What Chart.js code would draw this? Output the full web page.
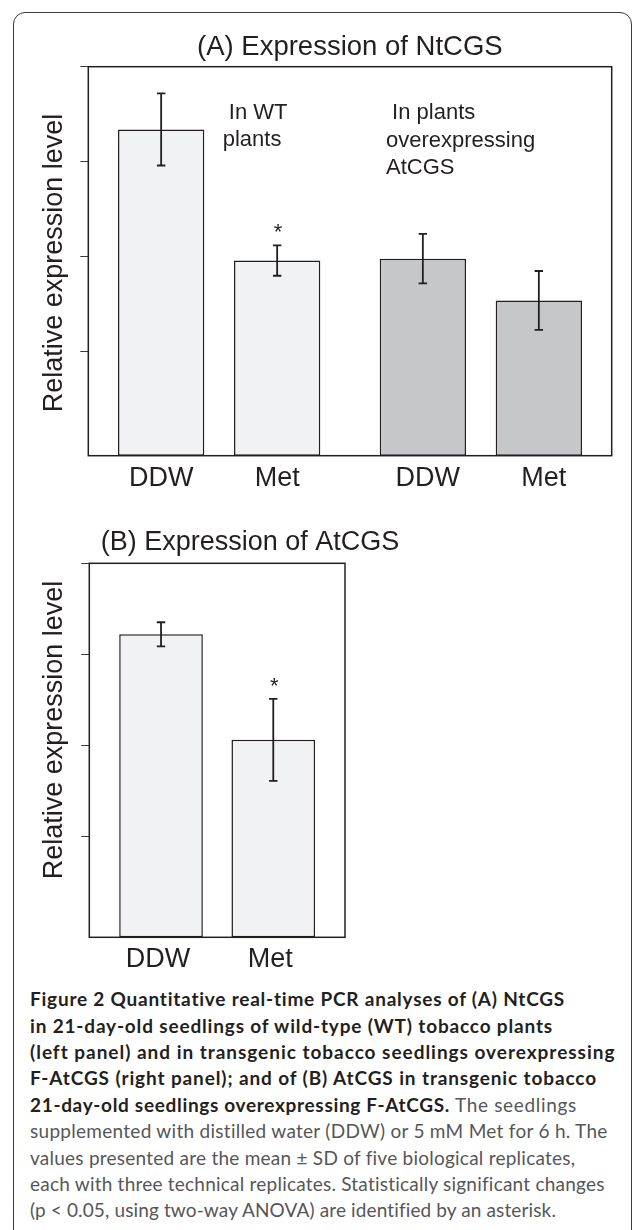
<!DOCTYPE html>
<html><head><meta charset="utf-8">
<script src="https://cdn.jsdelivr.net/npm/chart.js@4/dist/chart.umd.min.js"></script>
<style>
html,body{margin:0;padding:0;background:#fff;}
body{width:633px;height:1230px;position:relative;overflow:hidden;}
#frame{position:absolute;left:13px;top:12px;width:619px;height:1320px;border:1.5px solid #3a3a3a;border-radius:12px;box-sizing:border-box;}
#cA{position:absolute;left:0;top:0;}
#cB{position:absolute;left:0;top:500px;}
#cap{position:absolute;left:30px;top:986.2px;font-family:Lato,"Open Sans",sans-serif;font-size:19px;line-height:26.4px;color:#565658;white-space:nowrap;}
#cap b{color:#231f20;font-weight:700;}
</style></head>
<body>
<div id="frame"></div>
<canvas id="cA" width="633" height="500"></canvas>
<canvas id="cB" width="633" height="480"></canvas>
<div id="cap">
<div class="ln"><b>Figure 2 Quantitative real-time PCR analyses of (A) NtCGS</b></div>
<div class="ln"><b>in 21-day-old seedlings of wild-type (WT) tobacco plants</b></div>
<div class="ln"><b>(left panel) and in transgenic tobacco seedlings overexpressing</b></div>
<div class="ln"><b>F-AtCGS (right panel); and of (B) AtCGS in transgenic tobacco</b></div>
<div class="ln"><b>21-day-old seedlings overexpressing F-AtCGS.</b> The seedlings</div>
<div class="ln">supplemented with distilled water (DDW) or 5 mM Met for 6 h. The</div>
<div class="ln">values presented are the mean ± SD of five biological replicates,</div>
<div class="ln">each with three technical replicates. Statistically significant changes</div>
<div class="ln">(p &lt; 0.05, using two-way ANOVA) are identified by an asterisk.</div>
</div>
<script>
// ---- data ----
const treatments = ["DDW", "Met"];
const groupsA = ["In WT plants", "In plants overexpressing AtCGS"];
const ddwA = [1.67, 0.99];
const metA = [0.98, 0.77];
const ddwSdA = [0.19, 0.13];
const metSdA = [0.08, 0.155];
const starDdwA = [false, false];
const starMetA = [true, false];
const groupsB = ["AtCGS"];
const ddwB = [1.61];
const metB = [1.03];
const ddwSdB = [0.066];
const metSdB = [0.225];
const starDdwB = [false];
const starMetB = [true];
const yTicks = [0.5, 1.0, 1.5, 2.0];
const titleA = "(A) Expression of NtCGS";
const titleB = "(B) Expression of AtCGS";
const yTitle = "Relative expression level";
const noteWT = [" In WT", "plants"];
const noteOE = [" In plants", "overexpressing", "AtCGS"];

// ---- styles ----
const INK = '#231f20';
const LIGHT = '#f1f2f4';
const GREY = '#c6c7c9';
const FONT = '"Liberation Sans", Arial, Helvetica, sans-serif';

// caption line widths (layout only)
const capWidths = [536, 523, 585, 567, 547, 578, 545, 575, 526];
document.querySelectorAll('#cap .ln').forEach((el, i) => {
  const r = document.createRange();
  r.selectNodeContents(el);
  const w = r.getBoundingClientRect().width;
  const n = el.textContent.length;
  el.style.letterSpacing = ((capWidths[i] - w) / n) + 'px';
});

const decor = {
  id: 'decor',
  afterDatasetsDraw(chart, args, o) {
    const ctx = chart.ctx, ca = chart.chartArea, y = chart.scales.y;
    ctx.save();
    ctx.fillStyle = INK; ctx.strokeStyle = INK;
    chart.data.datasets.forEach((ds, di) => {
      const meta = chart.getDatasetMeta(di);
      meta.data.forEach((el, i) => {
        const v = ds.data[i], sd = ds.sd[i];
        const yt = y.getPixelForValue(v + sd), yb = y.getPixelForValue(v - sd);
        ctx.lineWidth = 1.8;
        ctx.beginPath();
        ctx.moveTo(el.x, yt); ctx.lineTo(el.x, yb);
        ctx.moveTo(el.x - 4.2, yt); ctx.lineTo(el.x + 4.2, yt);
        ctx.moveTo(el.x - 4.2, yb); ctx.lineTo(el.x + 4.2, yb);
        ctx.stroke();
        ctx.textAlign = 'center'; ctx.textBaseline = 'alphabetic';
        if (ds.star[i]) {
          ctx.font = '22px ' + FONT;
          ctx.fillText('*', el.x + 1, yt - 6);
        }
        ctx.font = '27px ' + FONT;
        ctx.fillText(ds.label, el.x + (o.labelDx ? o.labelDx[i] : 0), ca.bottom + 30);
      });
    });
    // frame
    ctx.lineWidth = 1.5;
    ctx.strokeRect(ca.left, ca.top, ca.right - ca.left, ca.bottom - ca.top);
    // title
    ctx.textAlign = 'left';
    ctx.font = o.titleSize + 'px ' + FONT;
    ctx.fillText(o.title, o.titleX, o.titleY);
    // notes
    ctx.font = '22px ' + FONT;
    (o.notes || []).forEach(n => n.lines.forEach((t, k) => ctx.fillText(t, n.x, n.y + k * 27.2)));
    // y title
    ctx.save();
    ctx.translate(62, o.yTitleY);
    ctx.rotate(-Math.PI / 2);
    ctx.textAlign = 'center';
    ctx.font = '27px ' + FONT;
    ctx.fillText(yTitle, 0, 0);
    ctx.restore();
    ctx.restore();
  }
};

function yScale(minV) {
  return {
    min: minV, max: 2.0,
    afterBuildTicks: s => { s.ticks = yTicks.map(v => ({ value: v })); },
    ticks: { display: false },
    grid: { drawOnChartArea: false, drawTicks: true, tickLength: 10, color: '#3a3a3a', lineWidth: 1, tickBorderDash: [0, 2, 8, 0] },
    border: { display: false },
    afterFit: s => { s.width = 10; }
  };
}
const xScale = {
  type: 'category', offset: true,
  grid: { display: false }, border: { display: false }, ticks: { display: false },
  afterFit: s => { s.height = 0; }
};

const yMinA = -0.047;
new Chart(document.getElementById('cA'), {
  type: 'bar',
  data: {
    labels: groupsA,
    datasets: [
      { label: treatments[0], data: ddwA, sd: ddwSdA, star: starDdwA, backgroundColor: [LIGHT, GREY] },
      { label: treatments[1], data: metA, sd: metSdA, star: starMetA, backgroundColor: [LIGHT, GREY] }
    ]
  },
  options: {
    responsive: false, animation: false, devicePixelRatio: 1,
    layout: { padding: { left: 78.3, right: 21.3, top: 66.7, bottom: 44.3 } },
    datasets: { bar: { base: yMinA, borderColor: INK, borderWidth: 1.5, borderSkipped: false, barPercentage: 0.744, categoryPercentage: 0.8865 } },
    plugins: {
      legend: { display: false }, tooltip: { enabled: false },
      decor: {
        title: titleA, titleX: 197, titleY: 55, titleSize: 27.5, yTitleY: 263, labelDx: [0, 5],
        notes: [{ lines: noteWT, x: 222.7, y: 119 }, { lines: noteOE, x: 386, y: 119.3 }]
      }
    },
    scales: { x: xScale, y: yScale(yMinA) }
  },
  plugins: [decor]
});

const yMinB = -0.055;
new Chart(document.getElementById('cB'), {
  type: 'bar',
  data: {
    labels: groupsB,
    datasets: [
      { label: treatments[0], data: ddwB, sd: ddwSdB, star: starDdwB, backgroundColor: [LIGHT] },
      { label: treatments[1], data: metB, sd: metSdB, star: starMetB, backgroundColor: [LIGHT] }
    ]
  },
  options: {
    responsive: false, animation: false, devicePixelRatio: 1,
    layout: { padding: { left: 79.3, right: 288, top: 63.3, bottom: 42.7 } },
    datasets: { bar: { base: yMinB, borderColor: INK, borderWidth: 1.5, borderSkipped: false, barPercentage: 0.745, categoryPercentage: 0.878 } },
    plugins: {
      legend: { display: false }, tooltip: { enabled: false },
      decor: { title: titleB, titleX: 100.7, titleY: 50, titleSize: 27, yTitleY: 230, labelDx: [-3] }
    },
    scales: { x: xScale, y: yScale(yMinB) }
  },
  plugins: [decor]
});
</script>
</body></html>
